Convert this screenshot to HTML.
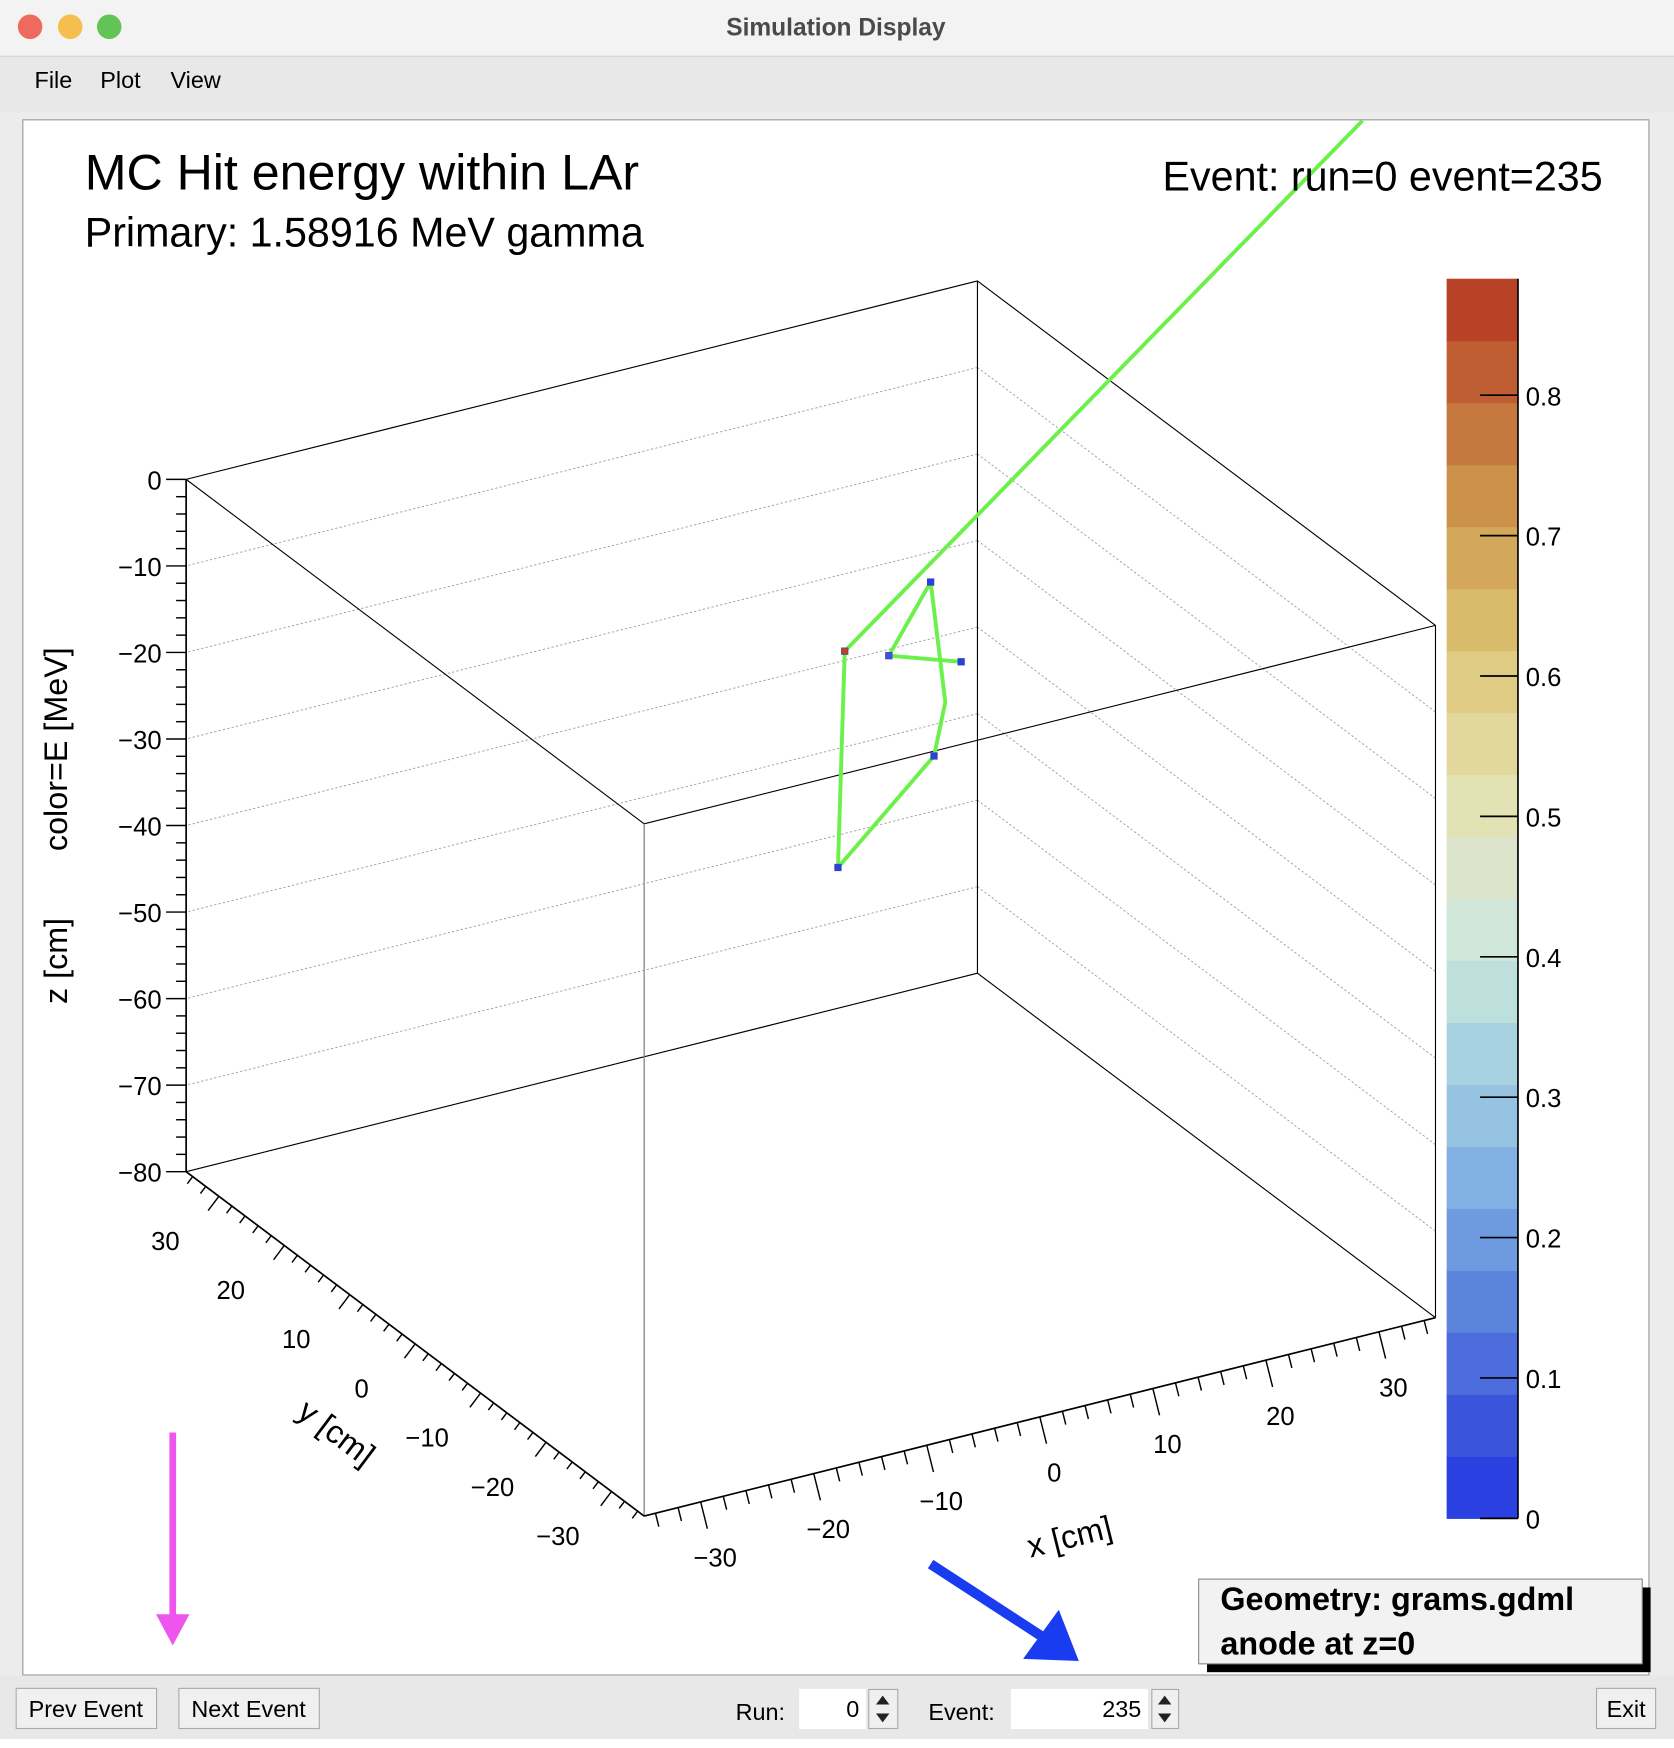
<!DOCTYPE html>
<html><head><meta charset="utf-8"><style>
html,body{margin:0;padding:0;background:#fff;}
svg{display:block;font-family:"Liberation Sans",Arial,sans-serif;}
</style></head><body>
<svg id="s" width="1674" height="1748" viewBox="0 0 1502 1568" preserveAspectRatio="none" xmlns="http://www.w3.org/2000/svg">
<rect x="0" y="0" width="1502" height="1568" fill="#ececec"/>
<rect x="0" y="0" width="1502" height="50" fill="#f3f3f3"/>
<line x1="0" y1="50.5" x2="1502" y2="50.5" stroke="#cfcfcf"/>
<circle cx="27" cy="24" r="11" fill="#ee6a5e"/>
<circle cx="63" cy="24" r="11" fill="#f5bf4f"/>
<circle cx="98" cy="24" r="11" fill="#61c454"/>
<text x="750" y="32" font-size="22" font-weight="bold" fill="#4a4a4a" text-anchor="middle">Simulation Display</text>
<rect x="0" y="51" width="1502" height="50" fill="#e8e8e8"/>
<text x="31" y="79" font-size="21">File</text>
<text x="90" y="79" font-size="21">Plot</text>
<text x="153" y="79" font-size="21">View</text>
<rect x="20.5" y="107.5" width="1459" height="1395" fill="#fff" stroke="#999"/>
<clipPath id="cc"><rect x="21" y="108" width="1458" height="1394"/></clipPath>
<g id="plot"></g>
<text x="76" y="170" font-size="45">MC Hit energy within LAr</text>
<text x="76" y="221" font-size="37">Primary: 1.58916 MeV gamma</text>
<text x="1438" y="171" font-size="37" text-anchor="end">Event: run=0 event=235</text>
<text transform="translate(60,862) rotate(-90)" font-size="29" text-anchor="middle">z [cm]</text>
<text transform="translate(60,672) rotate(-90)" font-size="29" text-anchor="middle">color=E [MeV]</text>
<text transform="translate(296,1293) rotate(37)" font-size="29" text-anchor="middle">y [cm]</text>
<text transform="translate(962,1388) rotate(-14)" font-size="29" text-anchor="middle">x [cm]</text>
<g>
<rect x="1083" y="1424" width="398" height="76" fill="#000"/>
<rect x="1075.5" y="1416.5" width="398" height="76" fill="#f2f2f2" stroke="#888"/>
<text x="1095" y="1444" font-size="29" font-weight="bold">Geometry: grams.gdml</text>
<text x="1095" y="1484" font-size="29" font-weight="bold">anode at z=0</text>
</g>
<g><line x1="155" y1="1285" x2="155" y2="1455" stroke="#ee55ee" stroke-width="6"/><polygon points="140,1448 170,1448 155,1476" fill="#ee55ee"/></g>
<g><line x1="835" y1="1403" x2="935" y2="1468" stroke="#1a3cf0" stroke-width="9"/><polygon points="918,1488 968,1490 950,1444" fill="#1a3cf0"/></g>
<rect x="0" y="1503" width="1502" height="57" fill="#e8e8e8"/>
<g font-size="21">
<rect x="14.5" y="1514.5" width="126" height="36" fill="#f0f0f0" stroke="#aaa"/>
<text x="77" y="1540" text-anchor="middle">Prev Event</text>
<rect x="160.5" y="1514.5" width="126" height="36" fill="#f0f0f0" stroke="#aaa"/>
<text x="223" y="1540" text-anchor="middle">Next Event</text>
<text x="660" y="1543">Run:</text>
<rect x="717" y="1515" width="60" height="36" fill="#fff"/>
<text x="771" y="1540" text-anchor="end">0</text>
<rect x="779.5" y="1515.5" width="26" height="35" fill="#f0f0f0" stroke="#aaa"/>
<polygon points="786,1529 798,1529 792,1521" fill="#222"/><polygon points="786,1537 798,1537 792,1545" fill="#222"/>
<text x="833" y="1543">Event:</text>
<rect x="907" y="1515" width="123" height="36" fill="#fff"/>
<text x="1024" y="1540" text-anchor="end">235</text>
<rect x="1033.5" y="1515.5" width="24" height="35" fill="#f0f0f0" stroke="#aaa"/>
<polygon points="1039,1529 1051,1529 1045,1521" fill="#222"/><polygon points="1039,1537 1051,1537 1045,1545" fill="#222"/>
<rect x="1432.5" y="1514.5" width="53" height="36" fill="#f0f0f0" stroke="#aaa"/>
<text x="1459" y="1540" text-anchor="middle">Exit</text>
</g>
<rect x="0" y="1560" width="1502" height="8" fill="#fff"/>
</svg>
<script>
const zTicks=[0,-10,-20,-30,-40,-50,-60,-70,-80];
const yTicks=[30,20,10,0,-10,-20,-30];
const xTicks=[-30,-20,-10,0,10,20,30];
const cTicks=[0,0.1,0.2,0.3,0.4,0.5,0.6,0.7,0.8];
const cMax=0.883;
const binColors=["#2b40e0","#3a55dc","#4b6cda","#5b84dc","#6e9be0","#82b0e2","#96c3e2","#a8d2e0","#bde0dc","#cfe6d8","#dce5cc","#e2e2b4","#e2d89c","#dfcb84","#d9bb6c","#d3a85a","#cc924a","#c5793e","#be5e32","#b84226"];
const trackX=[48.8,3.0,2.4,10.9,11.9,10.6,6.9,13.3];
const trackY=[0,0,0,0,0,0,0,0];
const trackZ=[33.9,-12.4,-37.2,-27.1,-21.2,-6.9,-14.2,-17.0];
const hitX=[3.0,2.4,10.6,6.9,13.3,10.9];
const hitY=[0,0,0,0,0,0];
const hitZ=[-12.4,-37.2,-6.9,-14.2,-17.0,-27.1];
const hitE=[0.85,0.04,0.03,0.05,0.03,0.02];

const NS="http://www.w3.org/2000/svg";
const g=document.getElementById('plot');
function P(x,y,z){return [727.5+10.143*x-5.871*y, 495.5-2.543*x-4.414*y-7.7625*z];}
function mk(tag,attrs,parent){const e=document.createElementNS(NS,tag);for(const k in attrs)e.setAttribute(k,attrs[k]);(parent||g).appendChild(e);return e;}
function ln(a,b,st,w,dash){const e=mk('line',{x1:a[0],y1:a[1],x2:b[0],y2:b[1],stroke:st,'stroke-width':w||1});if(dash)e.setAttribute('stroke-dasharray',dash);return e;}
zTicks.forEach(z=>{
  const gl=ln(P(35,35,z),P(35,-35,z),'#999',0.8,'2,2');
  
  
  const gl2=ln(P(35,35,z),P(-35,35,z),'#999',0.8,'2,2');
  
  
});
const E=[[[-35,35,0],[-35,-35,0]],[[-35,-35,0],[35,-35,0]],[[35,-35,0],[35,35,0]],[[35,35,0],[-35,35,0]],
[[-35,35,-80],[-35,-35,-80]],[[-35,-35,-80],[35,-35,-80]],[[35,-35,-80],[35,35,-80]],[[35,35,-80],[-35,35,-80]],
[[-35,35,0],[-35,35,-80]],[[35,-35,0],[35,-35,-80]],[[35,35,0],[35,35,-80]]];
E.forEach(e=>{const l=ln(P(...e[0]),P(...e[1]),'#000',1);

});
const fe=ln(P(-35,-35,0),P(-35,-35,-80),'#888',1.2);


for(let z=0;z>=-80;z-=2){const p=P(-35,35,z);const len=z%10===0?18:9;ln(p,[p[0]-len,p[1]],'#000',1.3);}
zTicks.forEach(z=>{const p=P(-35,35,z);const t=mk('text',{x:145,y:p[1]+9,'font-size':23,'text-anchor':'end'});t.textContent=String(z).replace('-','\u2212');

});
ln(P(-35,35,0),P(-35,35,-80),'#000',1.5);
ln(P(-35,35,-80),P(-35,-35,-80),'#000',1.5);
for(let y=34;y>=-34;y-=2){const p=P(-35,y,-80);const len=y%10===0?16:8;ln(p,[p[0]-0.6*len,p[1]+0.8*len],'#000',1.3);}
yTicks.forEach(y=>{const p=P(-35,y,-80);const t=mk('text',{x:p[0]-48,y:p[1]+48,'font-size':23,'text-anchor':'middle'});t.textContent=String(y).replace('-','\u2212');

});
ln(P(-35,-35,-80),P(35,-35,-80),'#000',1.5);
for(let x=-34;x<=34;x+=2){const p=P(x,-35,-80);const len=x%10===0?24:12;ln(p,[p[0]+0.25*len,p[1]+len],'#000',1.3);}
xTicks.forEach(x=>{const p=P(x,-35,-80);const t=mk('text',{x:p[0]+13,y:p[1]+58,'font-size':23,'text-anchor':'middle'});t.textContent=String(x).replace('-','\u2212');

});
const tg=mk('g',{'clip-path':'url(#cc)'});
const pts=trackX.map((x,i)=>P(x,trackY[i],trackZ[i]).join(',')).join(' ');
const pl=mk('polyline',{points:pts,fill:'none',stroke:'#6cf04a','stroke-width':3.5,'stroke-linejoin':'round'},tg);


const cy0=1362,cy1=250,cx=1298,cw=64;
function cScale(v){return cy0-(v/cMax)*(cy0-cy1);}
function cColor(v){let i=Math.floor(v/cMax*binColors.length);return binColors[Math.max(0,Math.min(binColors.length-1,i))];}
hitX.forEach((x,i)=>{const p=P(x,hitY[i],hitZ[i]);const h=mk('rect',{x:p[0]-3,y:p[1]-3,width:6,height:6,fill:cColor(hitE[i]),stroke:'#3344aa','stroke-width':0.5});

});
binColors.forEach((c,i)=>{const v0=i*cMax/binColors.length,v1=(i+1)*cMax/binColors.length;
const r=mk('rect',{x:cx,y:cScale(v1),width:cw,height:cScale(v0)-cScale(v1)+0.5,fill:c});

});
ln([cx+cw,cy1],[cx+cw,cy0],'#000',1.5);
cTicks.forEach(v=>{const y=cScale(v);ln([cx+30,y],[cx+cw,y],'#000',1.5);
const t=mk('text',{x:1369,y:y+9,'font-size':23});t.textContent=String(v);

});
</script>
</body></html>
